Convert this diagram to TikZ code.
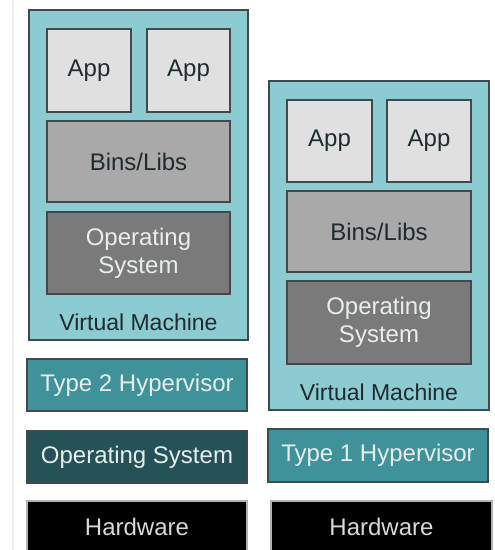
\documentclass[tikz,border=0pt]{standalone}
\usepackage{fontspec}
\setmainfont{Liberation Sans}
\definecolor{vmfill}{HTML}{8DCBD3}
\definecolor{edge}{HTML}{3E4A4D}
\definecolor{appfill}{HTML}{E0E0E0}
\definecolor{binfill}{HTML}{A9A9A9}
\definecolor{osfill}{HTML}{7A7A7A}
\definecolor{hypfill}{HTML}{3F9299}
\definecolor{hostfill}{HTML}{245257}
\definecolor{lighttext}{HTML}{E8EEEE}
\definecolor{darktext}{HTML}{1F2B2E}
\definecolor{hwtext}{HTML}{D8D8D8}
\definecolor{strip}{HTML}{ECECEC}
\begin{document}
\begin{tikzpicture}[x=1pt,y=-1pt,
  box/.style={draw=edge,line width=1.1pt,inner sep=0pt,font=\fontsize{24}{28}\selectfont,align=center},
  vmbox/.style={box,fill=vmfill},
  appbox/.style={box,fill=appfill,text=darktext},
  binbox/.style={box,fill=binfill,text=darktext},
  osbox/.style={box,fill=osfill,text=lighttext},
  hypbox/.style={box,fill=hypfill,text=lighttext},
  hostbox/.style={box,fill=hostfill,text=lighttext},
  hwbox/.style={box,draw=gray!60,fill=black,text=hwtext},
  vmlabel/.style={inner sep=0pt,font=\fontsize{23}{27}\selectfont,text=darktext}]
\useasboundingbox (0,0) rectangle (495,550);
\fill[white] (0,0) rectangle (495,550);
\fill[strip] (12,0) rectangle (14,550);
% left stack
\node[vmbox,minimum width=219pt,minimum height=330pt] (vm1) at (138.5,175) {};
\node[appbox,minimum width=84pt,minimum height=83pt] (appL1) at (89,70.5) {App};
\node[appbox,minimum width=83pt,minimum height=83pt] (appL2) at (188.5,70.5) {App};
\node[binbox,minimum width=183pt,minimum height=81pt] (binL) at (138.5,161.5) {Bins/Libs};
\node[osbox,minimum width=183pt,minimum height=82pt] (osL) at (138.5,253) {Operating\\System};
\node[vmlabel] (vmlabL) at (138.5,322) {Virtual Machine};
\node[hypbox,minimum width=220pt,minimum height=52pt] (hyp2) at (137,385) {Type 2 Hypervisor};
\node[hostbox,minimum width=220pt,minimum height=52pt] (host) at (137,457) {Operating System};
\node[hwbox,minimum width=220pt,minimum height=52pt] (hwL) at (137,527) {Hardware};
% right stack
\node[vmbox,minimum width=220pt,minimum height=329pt] (vm2) at (379,245.5) {};
\node[appbox,minimum width=85pt,minimum height=82pt] (appR1) at (329.5,141) {App};
\node[appbox,minimum width=84pt,minimum height=82pt] (appR2) at (429,141) {App};
\node[binbox,minimum width=184pt,minimum height=81pt] (binR) at (379,231.5) {Bins/Libs};
\node[osbox,minimum width=184pt,minimum height=83pt] (osR) at (379,322.5) {Operating\\System};
\node[vmlabel] (vmlabR) at (379,392) {Virtual Machine};
\node[hypbox,minimum width=220pt,minimum height=53pt] (hyp1) at (378,455.5) {Type 1 Hypervisor};
\node[hwbox,minimum width=221pt,minimum height=52pt] (hwR) at (381.5,527) {Hardware};
\end{tikzpicture}
\end{document}
